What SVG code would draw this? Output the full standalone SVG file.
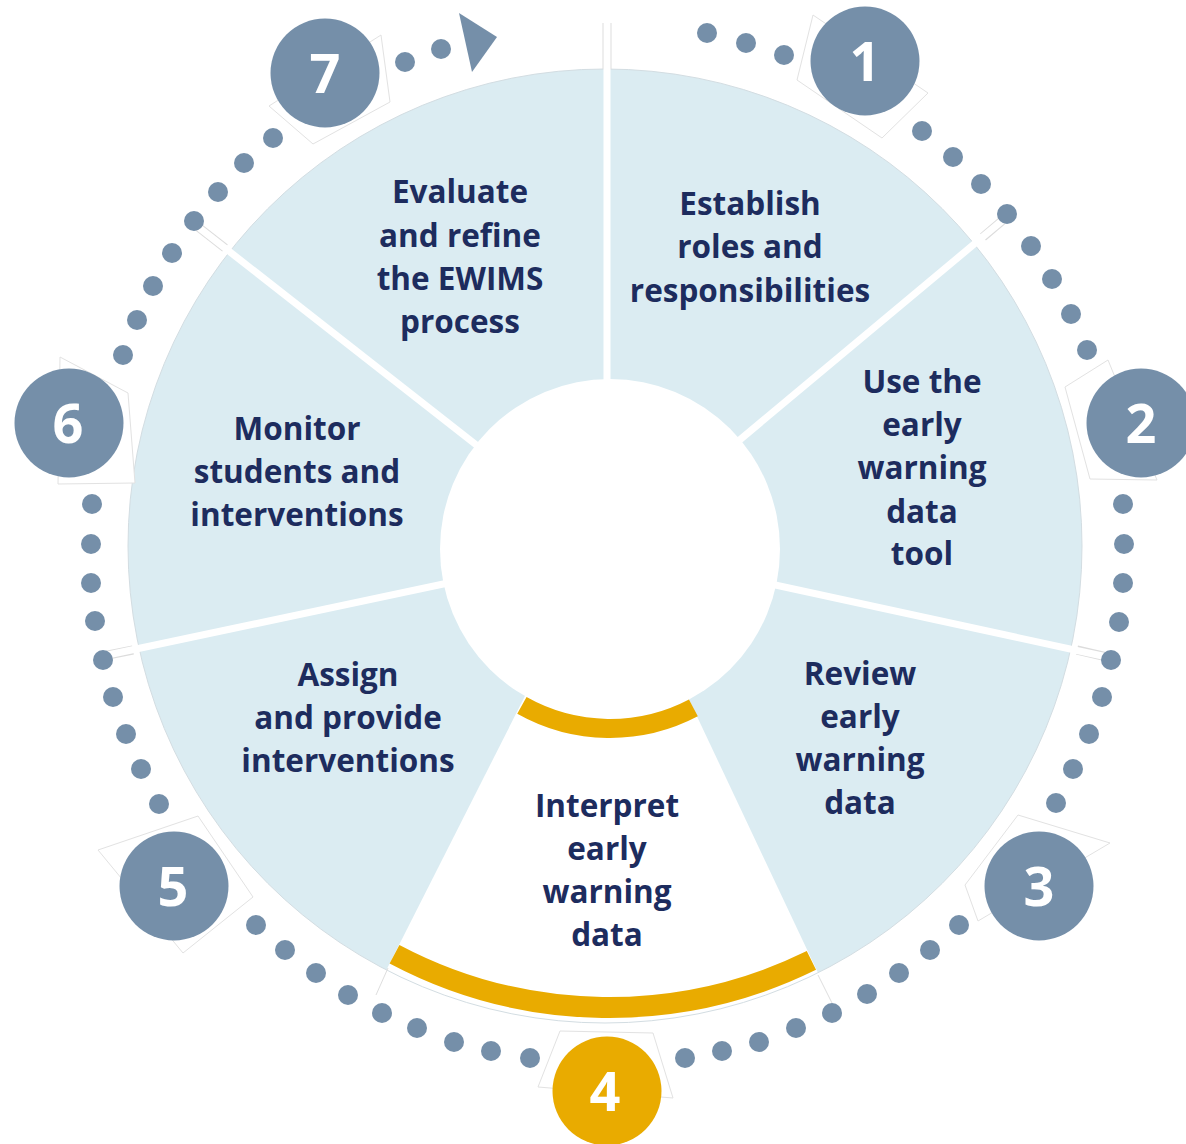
<svg xmlns="http://www.w3.org/2000/svg" width="1186" height="1144" viewBox="0 0 1186 1144">
<style>
.lbl{font-family:"Open Sans","Liberation Sans",sans-serif;font-weight:700;font-size:31.5px;fill:#1d2c5e;text-anchor:middle}
.num{font-family:"Open Sans","Liberation Sans",sans-serif;font-weight:700;font-size:54px;fill:#ffffff;text-anchor:middle}
.badge{fill:#758fa9}
.dot{fill:#758fa9}
.ghost{fill:#ffffff;stroke:#e2e2e2;stroke-width:1}
.div{stroke:#ffffff;stroke-width:7;fill:none}
.divedge{stroke:#dcdcdc;stroke-width:9;fill:none}
.gold{stroke:#e9ab00;fill:none}
</style>
<rect width="1186" height="1144" fill="#ffffff"/>
<g id="wheel">
<circle cx="605" cy="546" r="477" fill="#dbecf2"/>
<polygon points="609,530 356,1030 845,1030" fill="#ffffff"/>
<circle cx="605" cy="546" r="477" fill="none" stroke="#d3dde2" stroke-width="1"/>
</g>
<g id="connectors">
<line class="divedge" x1="607" y1="69" x2="607" y2="23"/>
<line class="divedge" x1="983" y1="237" x2="1003" y2="220"/>
<line class="divedge" x1="1077" y1="650" x2="1107" y2="657"/>
<line class="divedge" x1="133" y1="650" x2="103" y2="656"/>
<line class="divedge" x1="225" y1="248" x2="193" y2="223"/>
<line stroke="#dedede" stroke-width="1" x1="818" y1="975" x2="832" y2="1003"/>
<line stroke="#dedede" stroke-width="1" x1="388" y1="968" x2="376" y2="995"/>
<line class="div" x1="607" y1="549" x2="607" y2="23"/>
<line class="div" x1="609" y1="549" x2="1003" y2="220"/>
<line class="div" x1="609" y1="549" x2="1107" y2="657"/>
<line class="div" x1="609" y1="549" x2="103" y2="656"/>
<line class="div" x1="609" y1="549" x2="193" y2="223"/>
<polygon points="459,13 497,37 472,72" fill="#758fa9"/>
</g>
<g id="hub">
<circle cx="610" cy="549" r="170" fill="#ffffff"/>
<path class="gold" stroke-width="19" d="M 693.4 707.9 A 179.5 179.5 0 0 1 521.9 705.4"/>
<path class="gold" stroke-width="21" d="M 811.4 960.4 A 458.5 458.5 0 0 1 394.5 954.2"/>
</g>
<g id="dots">
<circle class="dot" cx="707" cy="33" r="10"/>
<circle class="dot" cx="746" cy="43" r="10"/>
<circle class="dot" cx="784" cy="55" r="10"/>
<circle class="dot" cx="922" cy="131" r="10"/>
<circle class="dot" cx="953" cy="157" r="10"/>
<circle class="dot" cx="981" cy="184" r="10"/>
<circle class="dot" cx="1007" cy="214" r="10"/>
<circle class="dot" cx="1031" cy="246" r="10"/>
<circle class="dot" cx="1052" cy="279" r="10"/>
<circle class="dot" cx="1071" cy="314" r="10"/>
<circle class="dot" cx="1087" cy="350" r="10"/>
<circle class="dot" cx="1123" cy="504" r="10"/>
<circle class="dot" cx="1124" cy="544" r="10"/>
<circle class="dot" cx="1123" cy="583" r="10"/>
<circle class="dot" cx="1119" cy="622" r="10"/>
<circle class="dot" cx="1111" cy="660" r="10"/>
<circle class="dot" cx="1102" cy="697" r="10"/>
<circle class="dot" cx="1089" cy="734" r="10"/>
<circle class="dot" cx="1073" cy="769" r="10"/>
<circle class="dot" cx="1056" cy="803" r="10"/>
<circle class="dot" cx="959" cy="925" r="10"/>
<circle class="dot" cx="930" cy="950" r="10"/>
<circle class="dot" cx="899" cy="973" r="10"/>
<circle class="dot" cx="867" cy="994" r="10"/>
<circle class="dot" cx="832" cy="1013" r="10"/>
<circle class="dot" cx="796" cy="1028" r="10"/>
<circle class="dot" cx="759" cy="1042" r="10"/>
<circle class="dot" cx="722" cy="1051" r="10"/>
<circle class="dot" cx="685" cy="1058" r="10"/>
<circle class="dot" cx="530" cy="1058" r="10"/>
<circle class="dot" cx="491" cy="1051" r="10"/>
<circle class="dot" cx="454" cy="1042" r="10"/>
<circle class="dot" cx="417" cy="1028" r="10"/>
<circle class="dot" cx="382" cy="1013" r="10"/>
<circle class="dot" cx="348" cy="995" r="10"/>
<circle class="dot" cx="316" cy="973" r="10"/>
<circle class="dot" cx="285" cy="950" r="10"/>
<circle class="dot" cx="256" cy="925" r="10"/>
<circle class="dot" cx="159" cy="804" r="10"/>
<circle class="dot" cx="141" cy="769" r="10"/>
<circle class="dot" cx="126" cy="734" r="10"/>
<circle class="dot" cx="113" cy="697" r="10"/>
<circle class="dot" cx="103" cy="660" r="10"/>
<circle class="dot" cx="95" cy="621" r="10"/>
<circle class="dot" cx="91" cy="583" r="10"/>
<circle class="dot" cx="91" cy="544" r="10"/>
<circle class="dot" cx="92" cy="504" r="10"/>
<circle class="dot" cx="123" cy="355" r="10"/>
<circle class="dot" cx="137" cy="320" r="10"/>
<circle class="dot" cx="153" cy="286" r="10"/>
<circle class="dot" cx="172" cy="253" r="10"/>
<circle class="dot" cx="194" cy="221" r="10"/>
<circle class="dot" cx="218" cy="192" r="10"/>
<circle class="dot" cx="244" cy="163" r="10"/>
<circle class="dot" cx="273" cy="138" r="10"/>
<circle class="dot" cx="405" cy="62" r="10"/>
<circle class="dot" cx="441" cy="49" r="10"/>
</g>
<g id="badge1">
<polygon class="ghost" points="813,15 797,80 882,138 928,93"/>
<circle class="badge" cx="865" cy="61" r="54.5"/>
<text class="num" x="865" y="81">1</text>
</g>
<g id="badge2">
<polygon class="ghost" points="1108,360 1065,387 1090,479 1157,480"/>
<circle class="badge" cx="1141" cy="423" r="54.5"/>
<text class="num" x="1141" y="443">2</text>
</g>
<g id="badge3">
<polygon class="ghost" points="1018,815 1110,843 978,921 965,885"/>
<circle class="badge" cx="1039" cy="886" r="54.5"/>
<text class="num" x="1039" y="906">3</text>
</g>
<g id="badge4">
<polygon class="ghost" points="560,1031 653,1033 673,1098 538,1087"/>
<circle cx="607" cy="1091" r="54.5" fill="#e9ab00"/>
<text class="num" x="605" y="1111">4</text>
</g>
<g id="badge5">
<polygon class="ghost" points="98,850 198,816 253,897 183,953"/>
<circle class="badge" cx="174" cy="886" r="54.5"/>
<text class="num" x="173" y="906">5</text>
</g>
<g id="badge6">
<polygon class="ghost" points="60,357 128,393 135,483 58,484"/>
<circle class="badge" cx="69" cy="423" r="54.5"/>
<text class="num" x="68" y="443">6</text>
</g>
<g id="badge7">
<polygon class="ghost" points="269,106 313,144 390,102 381,35"/>
<circle class="badge" cx="325" cy="73" r="54.5"/>
<text class="num" x="325" y="93">7</text>
</g>
<g id="step1">
<text class="lbl" x="750" y="215">Establish</text>
<text class="lbl" x="750" y="258">roles and</text>
<text class="lbl" x="750" y="302">responsibilities</text>
</g>
<g id="step2">
<text class="lbl" x="922" y="393">Use the</text>
<text class="lbl" x="922" y="436">early</text>
<text class="lbl" x="922" y="479">warning</text>
<text class="lbl" x="922" y="523">data</text>
<text class="lbl" x="922" y="565">tool</text>
</g>
<g id="step3">
<text class="lbl" x="860" y="685">Review</text>
<text class="lbl" x="860" y="728">early</text>
<text class="lbl" x="860" y="771">warning</text>
<text class="lbl" x="860" y="814">data</text>
</g>
<g id="step4">
<text class="lbl" x="607" y="817">Interpret</text>
<text class="lbl" x="607" y="860">early</text>
<text class="lbl" x="607" y="903">warning</text>
<text class="lbl" x="607" y="946">data</text>
</g>
<g id="step5">
<text class="lbl" x="348" y="686">Assign</text>
<text class="lbl" x="348" y="729">and provide</text>
<text class="lbl" x="348" y="772">interventions</text>
</g>
<g id="step6">
<text class="lbl" x="297" y="440">Monitor</text>
<text class="lbl" x="297" y="483">students and</text>
<text class="lbl" x="297" y="526">interventions</text>
</g>
<g id="step7">
<text class="lbl" x="460" y="203">Evaluate</text>
<text class="lbl" x="460" y="247">and refine</text>
<text class="lbl" x="460" y="290">the EWIMS</text>
<text class="lbl" x="460" y="333">process</text>
</g>
</svg>
